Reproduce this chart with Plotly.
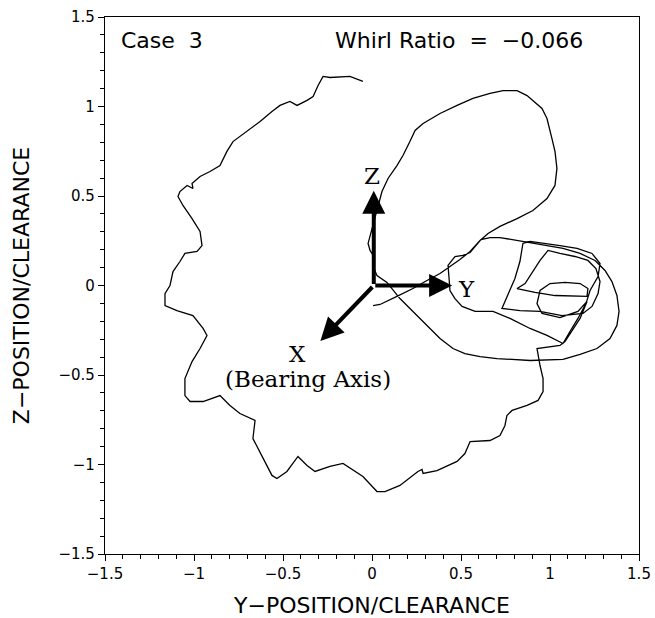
import plotly.graph_objects as go

# Rotor orbit (Y-position/clearance, Z-position/clearance)
y_pos = [0.006, 0.045, 0.140, 0.230, 0.309, 0.382, 0.438, 0.494, 0.551, 0.579, 0.607, 0.652, 0.719, 0.815,
         0.904, 0.983, 1.028, 1.039, 1.028, 1.011, 0.983, 0.955, 0.871, 0.815, 0.736, 0.663, 0.567, 0.478,
         0.382, 0.287, 0.242, 0.213, 0.174, 0.140, 0.090, 0.056, 0.034, 0.017, -0.011, -0.022, -0.011, 0.011,
         0.011, 0.028, 0.084, 0.157, 0.230, 0.309, 0.382, 0.455, 0.522, 0.607, 0.702, 0.888, 1.073, 1.169,
         1.264, 1.337, 1.376, 1.388, 1.376, 1.348, 1.309, 1.253, 1.169, 1.073, 0.983, 0.888, 0.803, 0.719,
         0.663, 0.612, 0.551, 0.511, 0.466, 0.427, 0.433, 0.438, 0.466, 0.506, 0.579, 0.680, 0.775, 0.888,
         0.983, 1.073, 1.112, 1.157, 1.202, 1.225, 1.270, 1.281, 1.236, 1.152, 1.056, 0.961, 0.888, 0.848,
         0.831, 0.803, 0.764, 0.730, 0.831, 0.944, 1.067, 1.185, 1.236, 1.270, 1.281, 1.258, 1.213, 1.140,
         1.056, 0.989, 0.944, 0.899, 0.860, 0.815, 0.916, 1.028, 1.140, 1.208, 1.213, 1.169, 1.084, 1.000,
         0.944, 0.927, 0.955, 1.056, 1.157, 1.208, 1.169, 1.124, 1.084, 1.056, 1.000, 0.927,
         0.944, 0.961, 0.961, 0.933, 0.871, 0.787, 0.758, 0.747, 0.719, 0.663, 0.551, 0.522, 0.478, 0.365,
         0.287, 0.281, 0.258, 0.157, 0.073, 0.028, -0.051, -0.163, -0.236, -0.320, -0.365, -0.416, -0.478,
         -0.534, -0.562, -0.612, -0.669, -0.657, -0.742, -0.798, -0.854, -0.949, -1.022, -1.051, -1.051,
         -1.011, -0.966, -0.927, -0.949, -1.006, -1.096, -1.163, -1.163, -1.135, -1.118, -1.079, -1.051,
         -0.983, -0.955, -0.966, -1.011, -1.062, -1.090, -1.079, -1.039, -1.006, -1.011, -0.966, -0.910,
         -0.854, -0.815, -0.781, -0.702, -0.629, -0.562, -0.517, -0.461, -0.421, -0.365, -0.331, -0.303,
         -0.275, -0.236, -0.124, -0.051]
z_pos = [-0.112, -0.106, -0.061, -0.017, 0.028, 0.067, 0.106, 0.145, 0.190, 0.223, 0.251, 0.291, 0.330, 0.374,
         0.419, 0.486, 0.559, 0.654, 0.749, 0.821, 0.933, 0.989, 1.061, 1.089, 1.089, 1.073, 1.045, 1.006,
         0.961, 0.905, 0.866, 0.804, 0.726, 0.670, 0.598, 0.525, 0.447, 0.374, 0.279, 0.235, 0.196, 0.162,
         0.095, 0.056, 0.017, -0.073, -0.145, -0.223, -0.296, -0.352, -0.380, -0.397, -0.408, -0.419, -0.413, -0.385,
         -0.352, -0.296, -0.223, -0.145, -0.056, 0.022, 0.084, 0.140, 0.179, 0.207, 0.223, 0.240, 0.251, 0.268,
         0.268, 0.257, 0.184, 0.168, 0.162, 0.112, 0.039, -0.028, -0.073, -0.117, -0.145, -0.145, -0.184, -0.240,
         -0.279, -0.324, -0.257, -0.184, -0.101, -0.028, 0.050, 0.123, 0.179, 0.207, 0.223, 0.235, 0.246, 0.235,
         0.134, 0.039, -0.056, -0.128, -0.140, -0.145, -0.168, -0.156, -0.117, -0.045, 0.022, 0.095, 0.140, 0.162,
         0.179, 0.196, 0.140, 0.067, 0.011, -0.017, -0.039, -0.056, -0.061, -0.061, -0.017, 0.011, 0.017, 0.011,
         -0.028, -0.101, -0.156, -0.179, -0.145, -0.089, -0.184, -0.251, -0.313, -0.335, -0.341, -0.352,
         -0.447, -0.520, -0.592, -0.642, -0.670, -0.698, -0.726, -0.782, -0.838, -0.866, -0.872, -0.939, -0.983, -1.034,
         -1.050, -1.028, -1.039, -1.117, -1.151, -1.151, -1.067, -0.994, -1.011, -1.039, -1.006, -0.955, -1.039,
         -1.078, -1.061, -0.966, -0.855, -0.754, -0.715, -0.670, -0.615, -0.648, -0.648, -0.615, -0.520,
         -0.425, -0.352, -0.279, -0.240, -0.168, -0.140, -0.112, -0.045, 0.000, 0.078, 0.134, 0.179,
         0.190, 0.223, 0.302, 0.374, 0.447, 0.497, 0.525, 0.559, 0.542, 0.570, 0.609, 0.637,
         0.670, 0.749, 0.804, 0.860, 0.916, 0.972, 1.006, 1.028, 1.006, 1.034, 1.056, 1.117,
         1.168, 1.162, 1.168, 1.140]

# Coordinate triad (origin and arrow tips) and its labels
triad_origin = (0.01, 0.0)
triad_tips = {"Z": (0.01, 0.53), "Y": (0.45, 0.0), "X": (-0.29, -0.31)}
triad_labels = [("Z", 0.0, 0.61), ("Y", 0.53, -0.02), ("X", -0.42, -0.38), ("(Bearing Axis)", -0.36, -0.52)]

case_label = "Case  3"
whirl_label = "Whirl Ratio  =  \u22120.066"

tick_vals = [-1.5, -1, -0.5, 0, 0.5, 1, 1.5]
tick_text = ["\u22121.5", "\u22121", "\u22120.5", "0", "0.5", "1", "1.5"]

fig = go.Figure()
fig.add_trace(go.Scatter(x=y_pos, y=z_pos, mode="lines",
                         line=dict(color="black", width=1.3), showlegend=False, hoverinfo="skip"))

for name, (tx, tz) in triad_tips.items():
    fig.add_annotation(x=tx, y=tz, ax=triad_origin[0], ay=triad_origin[1],
                       xref="x", yref="y", axref="x", ayref="y",
                       showarrow=True, arrowhead=2, arrowsize=1.15, arrowwidth=4,
                       arrowcolor="black", text="")

for txt, lx, lz in triad_labels:
    fig.add_annotation(x=lx, y=lz, xref="x", yref="y", text=txt, showarrow=False,
                       font=dict(family="DejaVu Serif", size=23, color="black"))

fig.add_annotation(x=-1.42, y=1.37, xref="x", yref="y", text=case_label, showarrow=False,
                   xanchor="left", font=dict(family="DejaVu Sans", size=22, color="black"))
fig.add_annotation(x=-0.22, y=1.37, xref="x", yref="y", text=whirl_label, showarrow=False,
                   xanchor="left", font=dict(family="DejaVu Sans", size=22, color="black"))

axis_common = dict(range=[-1.5, 1.5], tickvals=tick_vals, ticktext=tick_text,
                   ticks="outside", ticklen=6, tickwidth=1.3, tickcolor="black",
                   showline=True, linecolor="black", linewidth=1.3, mirror=True,
                   showgrid=False, zeroline=False, automargin=False,
                   tickfont=dict(family="DejaVu Sans", size=15, color="black"),
                   minor=dict(dtick=0.1, ticks="outside", ticklen=4, tickwidth=1.2,
                              tickcolor="black", showgrid=False))

fig.update_xaxes(**axis_common,
                 title=dict(text="Y\u2212POSITION/CLEARANCE", standoff=18,
                            font=dict(family="DejaVu Sans", size=22, color="black")))
fig.update_yaxes(**axis_common,
                 title=dict(text="Z\u2212POSITION/CLEARANCE", standoff=22,
                            font=dict(family="DejaVu Sans", size=22, color="black")))

fig.update_layout(width=655, height=618, margin=dict(l=105, r=16, t=17, b=64),
                  paper_bgcolor="white", plot_bgcolor="white")

fig.write_html("out.html")
